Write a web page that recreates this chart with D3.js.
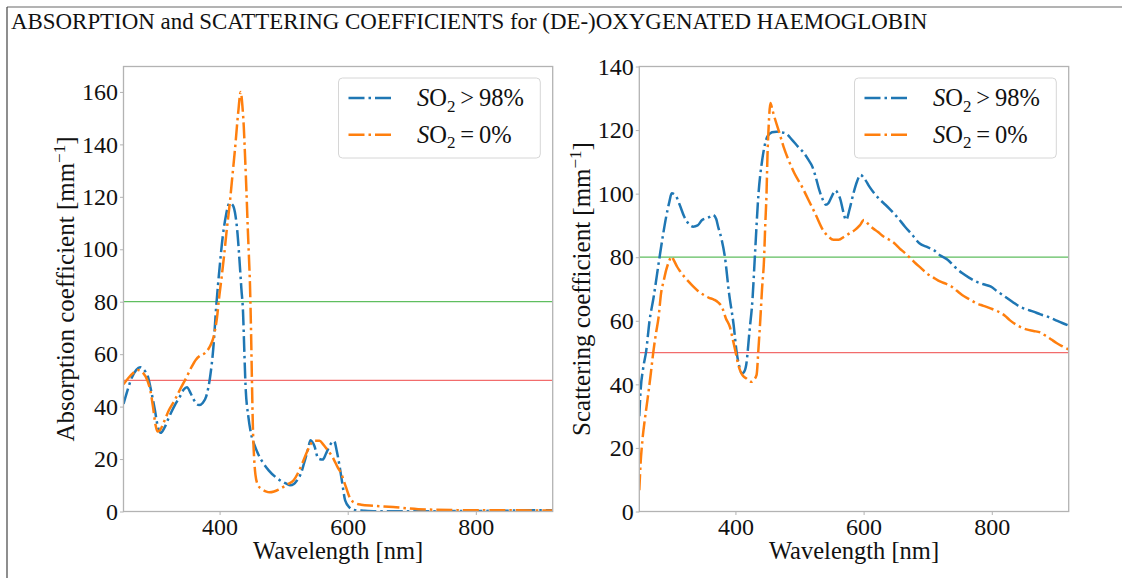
<!DOCTYPE html>
<html><head><meta charset="utf-8">
<script src="https://cdn.jsdelivr.net/npm/d3@7"></script>
<style>
body{margin:0;background:#fff;}
svg{display:block;font-family:"Liberation Serif","DejaVu Serif",serif;}
</style>
</head><body>
<svg id="c" width="1122" height="578"></svg>
<script>
// ---------- DATA ----------
const chartTitle = "ABSORPTION and SCATTERING COEFFICIENTS for (DE-)OXYGENATED HAEMOGLOBIN";
const xTickValues = [400, 600, 800];
const absTickValues = [0, 20, 40, 60, 80, 100, 120, 140, 160];
const scaTickValues = [0, 20, 40, 60, 80, 100, 120, 140];
const referenceLines = [80, 50];
const seriesLabels = [">98", "=0"];

// Absorption, SO2 > 98% (oxygenated)
const absOxyWl = [250,256,262,270,276,282,288,294,299,303,308,314,321,330,338,344,349,355,360,365,368,374,379,385,390,395,400,405,410,415.5,420,424,428,431,434,436.6,438.5,440.5,445,449,455,460,468,476.6,488,499,505,510,516,521,527,532,537.6,542,548,554,561,566,571,576,579,583,587.5,592,596,603,610,625,643,700,800,860,920];
const absOxyVal = [41,46,50.5,54,55,54,51.5,45,38.7,33,30,32,36,40.5,43.8,46.5,47.4,45,42.5,40.8,40.6,41.5,43.8,51,61.7,79,93,105,113,117.6,117,114,106,96,85,76,62,48,36,29.8,25,22,18.5,15.7,13,11.2,10.5,10,10.5,11.9,14.5,18.5,23.4,27.2,25,20.2,19.8,22,24.7,26.5,26.8,23,17,10,4.2,1.5,0.6,0.3,0.1,0.1,0.2,0.35,0.5];

// Absorption, SO2 = 0% (deoxygenated)
const absDeoWl = [250,258,266,272,280,288,292,296,300,303,307,312,321,330,338,349,356,363,370,377,385,390,393,396,399,403,407,411,415.5,420,424,429,433,435.5,437.7,440,442,444,446,447.5,449,450.5,452,454,456,460,466,472,478,485,492,499,507,515.6,522,529,536,543,549,556,562,568,573,578,584,590,597,604,612,621,640,671,710,782,850,920];
const absDeoVal = [48.5,51,53,54,53,49.5,46,40,33,30.5,31,33.5,38.7,42.5,46.4,51.5,55,57.9,59.5,60.4,63,66,69.4,74,81,89,97.5,107,116.6,128,138,152,160,155,147,134,121.7,108,96,86,70,50,32,20,14,10,8.5,7.7,7.3,7.6,8.3,9.3,10.5,11.9,14.5,18.3,22.5,26,27,27,25.5,23.6,22,20,17,14.4,9.5,4.9,3.2,2.6,2.2,1.7,0.9,0.5,0.45,0.4];

// Scattering, SO2 > 98%
const scaOxyWl = [250,252,256,260.7,266,272,281,287,292,297,300.5,306,313,320,327,334,341,348,358,365,370,373,378,383.5,390,397,402,405.6,410,413,416.7,422,426.7,430.6,436,441.8,450,457,464,471,478,488,497.5,506,514,520,525,531,536.5,541,545,550,556,560,564,568,572.7,578,584,590,595,602,609,617,626,634,642,653,664.6,676,687,698,709,720,731,742,753.7,765,776,787,798,809,820.5,832,843,854,865,876,887,898.5,910,921];
const scaOxyVal = [30,38,45,50.4,60,67,79.2,87,92.8,97.5,100.1,99.6,96.5,92.8,90.5,89.6,90,91.7,92.5,93.3,92,89.6,86,80.2,68.7,59,50,46,43.5,43.8,46,56.8,67,81.3,100,110.6,118,119.3,119.5,119.3,119,117,114.8,113,110.6,108.5,105.4,101,98,96.5,97,99,101,100,98,94.5,91.7,95,100,104,105.9,104.5,102.2,100,98,96.5,94.9,92.5,89.6,87,84.4,83.3,82.3,80.5,79.2,77,75,73.5,72.3,71.5,70.8,69.2,67.6,66,64.5,63.6,62.9,62,61.3,60.3,59.3,58.4];

// Scattering, SO2 = 0%
const scaDeoWl = [250,252,255,259,263,268,272,276,280,284,288,292,296,300.5,304,309,314,320,327,334,342,350.7,358,367,373,378.6,385,391.6,396,400,404,408,412,416.7,421,425,429,433,436,439,441.5,444.6,446.5,448.5,450,451.8,454.6,457.5,461,468,475,483,492,503,514,525,536.5,545,553,561,570,578,586.6,594,600.5,607,614.4,622,631,640,648,656,664.6,673,681,690,698,709,720,728,737,745,753.7,765,776,787,798,809,820.5,828,837,845,854,865,876,884,893,901,910,921];
const scaDeoVal = [6.7,15,22.7,29.5,35.5,43.5,50.4,56,61,68.7,72.5,76,78.5,80.2,79,77,75.5,73.9,72.3,70.8,69.3,68.1,67.3,66.6,65.8,64.5,60.8,57.9,54,50.4,46.5,44,42.6,41.9,41.2,40.8,41.5,43,51.5,61,70,79.2,90,100,112,121,128.5,126.5,124,119.5,114.8,110.5,106.4,102.5,98,93.5,88.6,86.5,85.5,85.5,86.5,87.5,88.6,90,91.7,90.5,89.1,88,86.5,85.5,84.4,82.8,81.3,79.7,78.1,76.5,75,73.6,72.3,71.7,70.8,69.5,68.1,66.8,65.5,64.7,63.9,63,61.6,60.2,58.9,58,57.3,56.8,56.3,55.3,54.1,53,52,50.9];

// ---------- DRAW ----------
const svg = d3.select("#c");
const FONT = '"Liberation Serif","DejaVu Serif",serif';
const BLUE = "#1f77b4", ORANGE = "#ff7f0e";
const SPINE = "#b3b3b3";

// figure border lines
svg.append("line").attr("x1",7).attr("x2",1122).attr("y1",7).attr("y2",7).attr("stroke","#9a9a9a").attr("stroke-width",1.5);
svg.append("line").attr("x1",7).attr("x2",7).attr("y1",7).attr("y2",578).attr("stroke","#444").attr("stroke-width",1.2);

// title
const t = svg.append("text").attr("x",11).attr("y",29).attr("font-size",18).attr("fill","#111").text(chartTitle);
const tw = t.node().getComputedTextLength();
t.attr("font-size", 18*917/tw);

function panel(opts){
  const x = d3.scaleLinear([250,920],[opts.x0,opts.x1]);
  const y = d3.scaleLinear([0,opts.ymax],[511.5,66.5]);
  const g = svg.append("g").attr("font-family",FONT);
  const cid = "clip"+opts.id;
  svg.append("defs").append("clipPath").attr("id",cid).append("rect")
    .attr("x",opts.x0).attr("y",66.5).attr("width",opts.x1-opts.x0).attr("height",445);

  // reference lines
  g.append("line").attr("x1",opts.x0).attr("x2",opts.x1).attr("y1",y(referenceLines[0])).attr("y2",y(referenceLines[0]))
    .attr("stroke","rgb(95,190,95)").attr("stroke-width",1.2);
  g.append("line").attr("x1",opts.x0).attr("x2",opts.x1).attr("y1",y(referenceLines[1])).attr("y2",y(referenceLines[1]))
    .attr("stroke","rgb(242,108,108)").attr("stroke-width",1.2);

  const line = d3.line().x(d=>x(d[0])).y(d=>y(d[1])).curve(d3.curveMonotoneX);
  const dash = "16,4,2.5,4";
  [[opts.oxyWl,opts.oxyVal,BLUE],[opts.deoWl,opts.deoVal,ORANGE]].forEach(([wl,val,col])=>{
    g.append("path").attr("clip-path",`url(#${cid})`)
      .attr("d", line(wl.map((w,i)=>[w,val[i]])))
      .attr("fill","none").attr("stroke",col).attr("stroke-width",2.5).attr("stroke-dasharray",dash);
  });

  // axes
  const xa = g.append("g").attr("transform","translate(0,511.5)")
    .call(d3.axisBottom(x).tickValues(xTickValues).tickSize(3.5).tickPadding(2.5).tickFormat(d3.format("d")));
  const ya = g.append("g").attr("transform",`translate(${opts.x0},0)`)
    .call(d3.axisLeft(y).tickValues(opts.ticks).tickSize(3.5).tickPadding(2).tickFormat(d3.format("d")));
  [xa,ya].forEach(a=>{
    a.attr("font-family",FONT);
    a.select(".domain").remove();
    a.selectAll(".tick line").attr("stroke",SPINE).attr("stroke-width",1);
    a.selectAll(".tick text").attr("font-family",FONT).attr("font-size",24).attr("fill","#111");
  });
  // spines
  g.append("rect").attr("x",opts.x0).attr("y",66.5).attr("width",opts.x1-opts.x0).attr("height",445)
    .attr("fill","none").attr("stroke",SPINE).attr("stroke-width",1.3);

  // x label
  g.append("text").attr("x",(opts.x0+opts.x1)/2).attr("y",559).attr("text-anchor","middle")
    .attr("font-size",24.5).attr("fill","#111").text("Wavelength [nm]");
  // y label
  const yl = g.append("text").attr("transform",`translate(${opts.ylx},289) rotate(-90)`)
    .attr("text-anchor","middle").attr("font-size",25).attr("fill","#111");
  yl.append("tspan").text(opts.ylabel+" [mm");
  yl.append("tspan").attr("dy",-9.5).attr("font-size",17).text("\u22121");
  yl.append("tspan").attr("dy",9.5).text("]");

  // legend
  const lx = opts.x1 - 12.4 - 201.8, ly = 78;
  const lg = g.append("g");
  lg.append("rect").attr("x",lx).attr("y",ly).attr("width",201.8).attr("height",80).attr("rx",4)
    .attr("fill","#fff").attr("fill-opacity",0.8).attr("stroke","#d6d6d6").attr("stroke-width",1);
  [[BLUE,seriesLabels[0]],[ORANGE,seriesLabels[1]]].forEach(([col,lab],i)=>{
    const yy = ly + 20 + i*36.8;
    lg.append("line").attr("x1",lx+10).attr("x2",lx+55.5).attr("y1",yy).attr("y2",yy)
      .attr("stroke",col).attr("stroke-width",2.5).attr("stroke-dasharray",dash);
    const tx = lg.append("text").attr("x",lx+78.5).attr("y",yy+8).attr("font-size",24.5).attr("fill","#111");
    tx.append("tspan").attr("font-style","italic").text("S");
    tx.append("tspan").text("O");
    tx.append("tspan").attr("dy",5.5).attr("font-size",17).text("2");
    const rel = lab[0]===">" ? ">" : "=";
    tx.append("tspan").attr("dy",-5.5).text("\u2009"+rel+"\u2009"+lab.slice(1)+"%");
  });
}

panel({id:"a",x0:123.5,x1:552.7,ymax:169.7,ticks:absTickValues,ylabel:"Absorption coefficient",ylx:74,
  oxyWl:absOxyWl,oxyVal:absOxyVal,deoWl:absDeoWl,deoVal:absDeoVal});
panel({id:"s",x0:639.3,x1:1068.7,ymax:140,ticks:scaTickValues,ylabel:"Scattering coefficient",ylx:590,
  oxyWl:scaOxyWl,oxyVal:scaOxyVal,deoWl:scaDeoWl,deoVal:scaDeoVal});
</script>
</body></html>
